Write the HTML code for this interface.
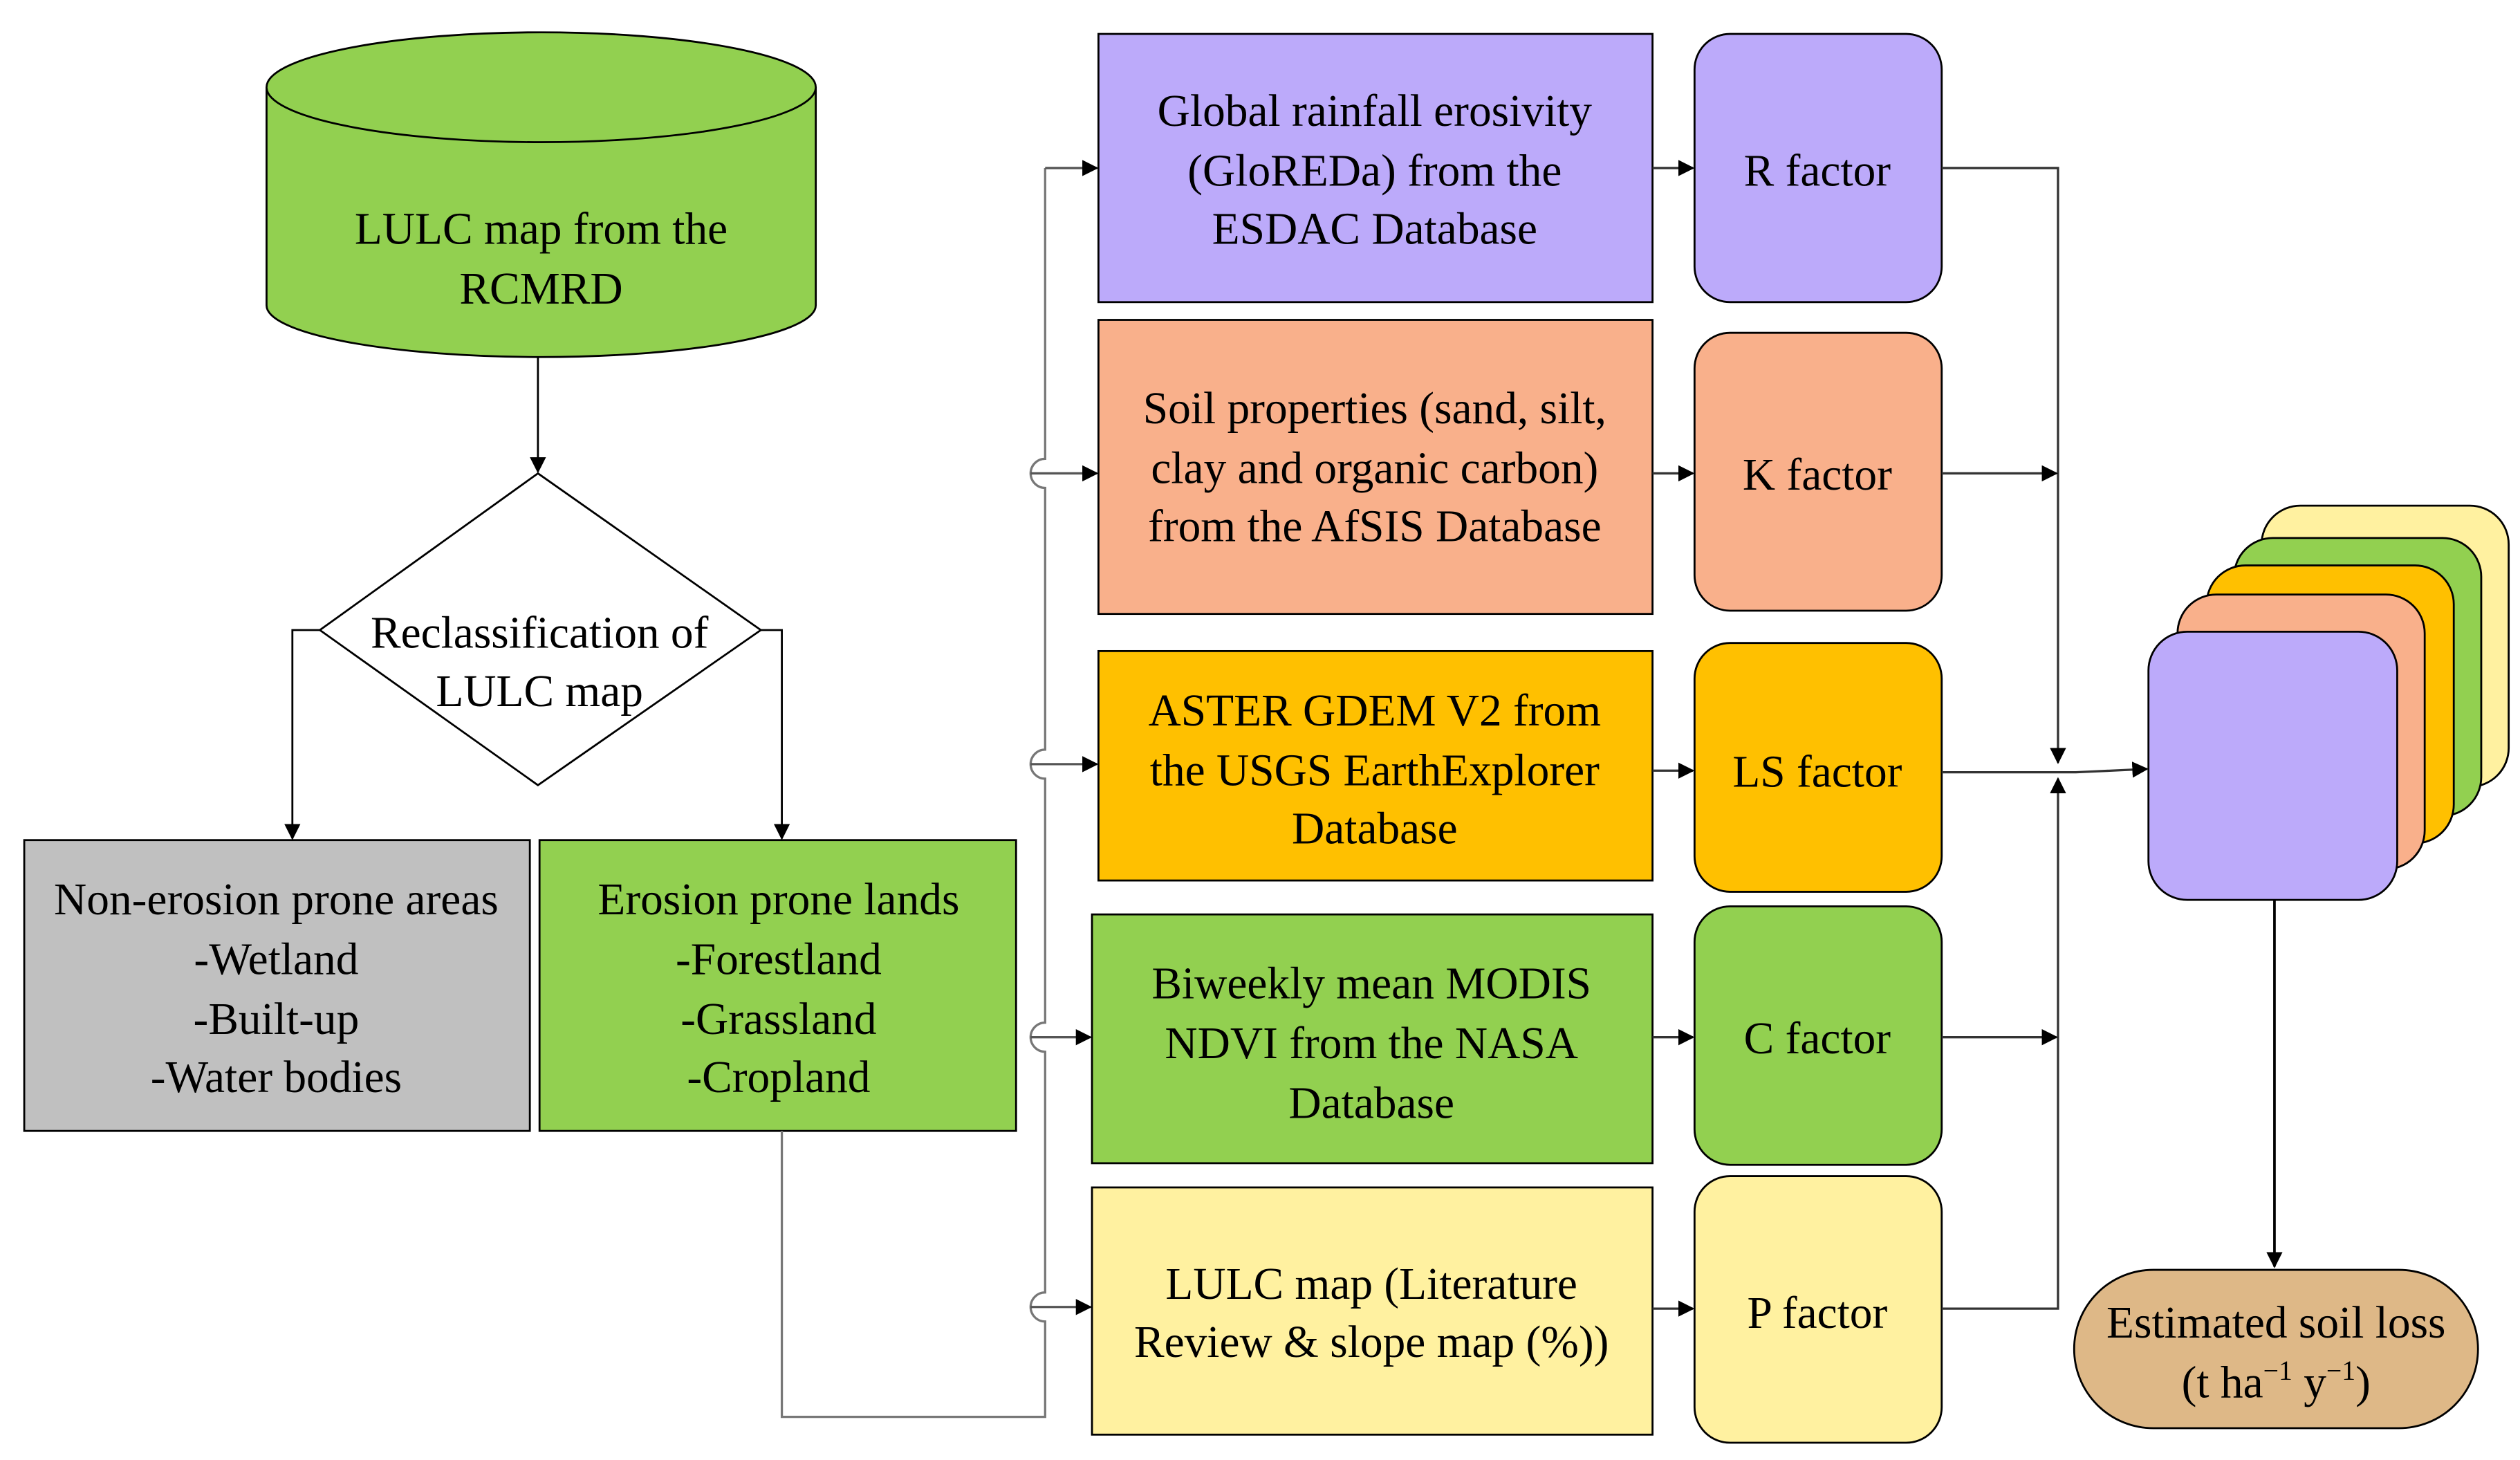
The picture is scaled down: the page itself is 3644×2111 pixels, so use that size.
<!DOCTYPE html>
<html><head><meta charset="utf-8"><style>html,body{margin:0;padding:0;background:#fff}svg{display:block}</style></head>
<body>
<svg width="3644" height="2111" viewBox="0 0 1560 903.7" preserveAspectRatio="none" xmlns="http://www.w3.org/2000/svg">
<defs>
<marker id="a" markerWidth="10" markerHeight="10" refX="9" refY="5" orient="auto" markerUnits="userSpaceOnUse"><path d="M0,0 L10,5 L0,10 z" fill="#000"/></marker>
</defs>
<g font-family="Liberation Serif, serif" font-size="28" text-anchor="middle" fill="#000">
<!-- cylinder -->
<path d="M165,54 L165,189 A170,32 0 0 0 505,189 L505,54" fill="#92d050" stroke="#000" stroke-width="1.2"/>
<ellipse cx="335" cy="54" rx="170" ry="34" fill="#92d050" stroke="#000" stroke-width="1.2"/>
<text x="335" y="151">LULC map from the</text>
<text x="335" y="188">RCMRD</text>
<line x1="333" y1="221" x2="333" y2="292" stroke="#000" stroke-width="1.2" marker-end="url(#a)"/>
<!-- diamond -->
<polygon points="333,293 471,390 333,486 198,390" fill="#fff" stroke="#000" stroke-width="1.2"/>
<text x="334" y="401">Reclassification of</text>
<text x="334" y="437">LULC map</text>
<polyline points="198,390 181,390 181,519" fill="none" stroke="#000" stroke-width="1.2" marker-end="url(#a)"/>
<polyline points="471,390 484,390 484,519" fill="none" stroke="#000" stroke-width="1.2" marker-end="url(#a)"/>
<!-- category boxes -->
<rect x="15" y="520" width="313" height="180" fill="#c0c0c0" stroke="#000" stroke-width="1.2"/>
<text x="171" y="566">Non-erosion prone areas</text>
<text x="171" y="603">-Wetland</text>
<text x="171" y="640">-Built-up</text>
<text x="171" y="676">-Water bodies</text>
<rect x="334" y="520" width="295" height="180" fill="#92d050" stroke="#000" stroke-width="1.2"/>
<text x="482" y="566">Erosion prone lands</text>
<text x="482" y="603">-Forestland</text>
<text x="482" y="640">-Grassland</text>
<text x="482" y="676">-Cropland</text>
<!-- connector bus -->
<g stroke="#777" stroke-width="1.4" fill="none">
<path d="M484,700 L484,877 L647,877 L647,818 A9,9 0 0 1 647,800 L647,651 A9,9 0 0 1 647,633 L647,482 A9,9 0 0 1 647,464 L647,302 A9,9 0 0 1 647,284 L647,104"/>
</g>
<g stroke="#555" stroke-width="1.4" marker-end="url(#a)">
<line x1="647" y1="104" x2="679" y2="104"/>
<line x1="638" y1="293" x2="679" y2="293"/>
<line x1="638" y1="473" x2="679" y2="473"/>
<line x1="638" y1="642" x2="675" y2="642"/>
<line x1="638" y1="809" x2="675" y2="809"/>
</g>
<!-- source boxes -->
<rect x="680" y="21" width="343" height="166" fill="#bcaafa" stroke="#000" stroke-width="1.2"/>
<text x="851" y="78">Global rainfall erosivity</text>
<text x="851" y="115">(GloREDa) from the</text>
<text x="851" y="151">ESDAC Database</text>
<rect x="680" y="198" width="343" height="182" fill="#f9b08b" stroke="#000" stroke-width="1.2"/>
<text x="851" y="262">Soil properties (sand, silt,</text>
<text x="851" y="299">clay and organic carbon)</text>
<text x="851" y="335">from the AfSIS Database</text>
<rect x="680" y="403" width="343" height="142" fill="#ffc000" stroke="#000" stroke-width="1.2"/>
<text x="851" y="449">ASTER GDEM V2 from</text>
<text x="851" y="486">the USGS EarthExplorer</text>
<text x="851" y="522">Database</text>
<rect x="676" y="566" width="347" height="154" fill="#92d050" stroke="#000" stroke-width="1.2"/>
<text x="849" y="618">Biweekly mean MODIS</text>
<text x="849" y="655">NDVI from the NASA</text>
<text x="849" y="692">Database</text>
<rect x="676" y="735" width="347" height="153" fill="#fff1a0" stroke="#000" stroke-width="1.2"/>
<text x="849" y="804">LULC map (Literature</text>
<text x="849" y="840">Review &amp; slope map (%))</text>
<g stroke="#333" stroke-width="1.4" marker-end="url(#a)">
<line x1="1023" y1="104" x2="1048" y2="104"/>
<line x1="1023" y1="293" x2="1048" y2="293"/>
<line x1="1023" y1="477" x2="1048" y2="477"/>
<line x1="1023" y1="642" x2="1048" y2="642"/>
<line x1="1023" y1="810" x2="1048" y2="810"/>
</g>
<!-- factor boxes -->
<rect x="1049" y="21" width="153" height="166" rx="22" fill="#bcaafa" stroke="#000" stroke-width="1.2"/>
<text x="1125" y="115">R factor</text>
<rect x="1049" y="206" width="153" height="172" rx="22" fill="#f9b08b" stroke="#000" stroke-width="1.2"/>
<text x="1125" y="303">K factor</text>
<rect x="1049" y="398" width="153" height="154" rx="22" fill="#ffc000" stroke="#000" stroke-width="1.2"/>
<text x="1125" y="487">LS factor</text>
<rect x="1049" y="561" width="153" height="160" rx="22" fill="#92d050" stroke="#000" stroke-width="1.2"/>
<text x="1125" y="652">C factor</text>
<rect x="1049" y="728" width="153" height="165" rx="22" fill="#fff1a0" stroke="#000" stroke-width="1.2"/>
<text x="1125" y="822">P factor</text>
<!-- right connectors -->
<g stroke="#333" stroke-width="1.4" fill="none">
<polyline points="1202,104 1274,104 1274,472" marker-end="url(#a)"/>
<polyline points="1202,810 1274,810 1274,482" marker-end="url(#a)"/>
<line x1="1202" y1="293" x2="1273" y2="293" marker-end="url(#a)"/>
<line x1="1202" y1="642" x2="1273" y2="642" marker-end="url(#a)"/>
<polyline points="1202,478 1285,478 1329,476" marker-end="url(#a)"/>
</g>
<!-- stack -->
<rect x="1400" y="313" width="153" height="174" rx="24" fill="#fff1a0" stroke="#000" stroke-width="1.2"/>
<rect x="1383" y="333" width="153" height="172" rx="24" fill="#92d050" stroke="#000" stroke-width="1.2"/>
<rect x="1366" y="350" width="153" height="172" rx="24" fill="#ffc000" stroke="#000" stroke-width="1.2"/>
<rect x="1348" y="368" width="153" height="170" rx="24" fill="#f9b08b" stroke="#000" stroke-width="1.2"/>
<rect x="1330" y="391" width="154" height="166" rx="24" fill="#bcaafa" stroke="#000" stroke-width="1.2"/>
<line x1="1408" y1="557" x2="1408" y2="784" stroke="#000" stroke-width="1.6" marker-end="url(#a)"/>
<rect x="1284" y="786" width="250" height="98" rx="49" ry="49" fill="#deb887" stroke="#000" stroke-width="1.2"/>
<text x="1409" y="828">Estimated soil loss</text>
<text x="1409" y="865">(t ha<tspan font-size="17" dy="-11">−1</tspan><tspan dy="11"> y</tspan><tspan font-size="17" dy="-11">−1</tspan><tspan dy="11">)</tspan></text>
</g>
</svg>
</body></html>
